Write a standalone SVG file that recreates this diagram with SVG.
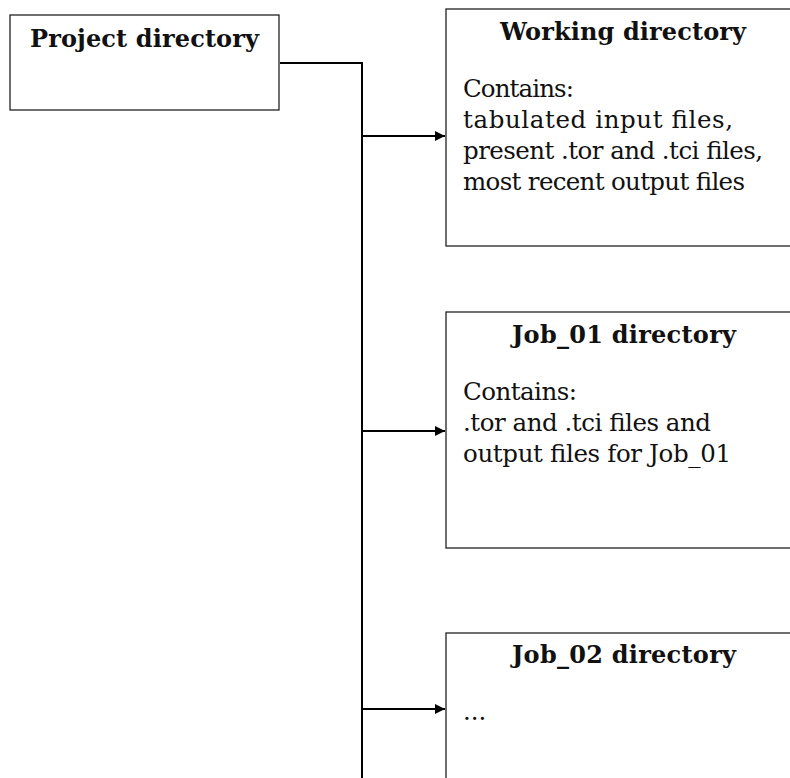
<svg xmlns="http://www.w3.org/2000/svg" width="790" height="778" viewBox="0 0 790 778">
<defs>
<style>
.box{fill:#fff;stroke:#222;stroke-width:1.3}
.title{font-family:"DejaVu Serif","Liberation Serif",serif;font-weight:bold;font-size:24px;fill:#111;text-anchor:middle}
.body{font-family:"DejaVu Serif","Liberation Serif",serif;font-size:24.5px;fill:#111}
.conn{fill:none;stroke:#000;stroke-width:2}
</style>
<marker id="arr" viewBox="0 0 10 10" refX="10" refY="5" markerWidth="5" markerHeight="5" orient="auto" markerUnits="strokeWidth">
<path d="M0,0 L10,5 L0,10 z" fill="#000"/>
</marker>
</defs>
<rect width="790" height="778" fill="#fff"/>
<g id="connectors">
<path class="conn" d="M280,63 H362 V778"/>
<path class="conn" d="M362,136 H445" marker-end="url(#arr)"/>
<path class="conn" d="M362,431 H445" marker-end="url(#arr)"/>
<path class="conn" d="M362,709 H445" marker-end="url(#arr)"/>
</g>
<g id="project">
<rect class="box" x="10" y="15" width="269" height="95"/>
<text class="title" x="144.5" y="47" textLength="229">Project directory</text>
</g>
<g id="working">
<rect class="box" x="446" y="9" width="360" height="237"/>
<text class="title" x="623" y="40" textLength="246">Working directory</text>
<text class="body" x="463" y="97" textLength="111">Contains:</text>
<text class="body" x="463" y="128" textLength="270">tabulated input files,</text>
<text class="body" x="463" y="159" textLength="300">present .tor and .tci files,</text>
<text class="body" x="463" y="190" textLength="282">most recent output files</text>
</g>
<g id="job01">
<rect class="box" x="446" y="312" width="360" height="236"/>
<text class="title" x="624" y="343" textLength="224">Job_01 directory</text>
<text class="body" x="463" y="400" textLength="114">Contains:</text>
<text class="body" x="463" y="431" textLength="248">.tor and .tci files and</text>
<text class="body" x="463" y="462" textLength="268">output files for Job_01</text>
</g>
<g id="job02">
<rect class="box" x="446" y="633" width="360" height="160"/>
<text class="title" x="624" y="663" textLength="224">Job_02 directory</text>
<text class="body" x="463" y="720">...</text>
</g>
</svg>
